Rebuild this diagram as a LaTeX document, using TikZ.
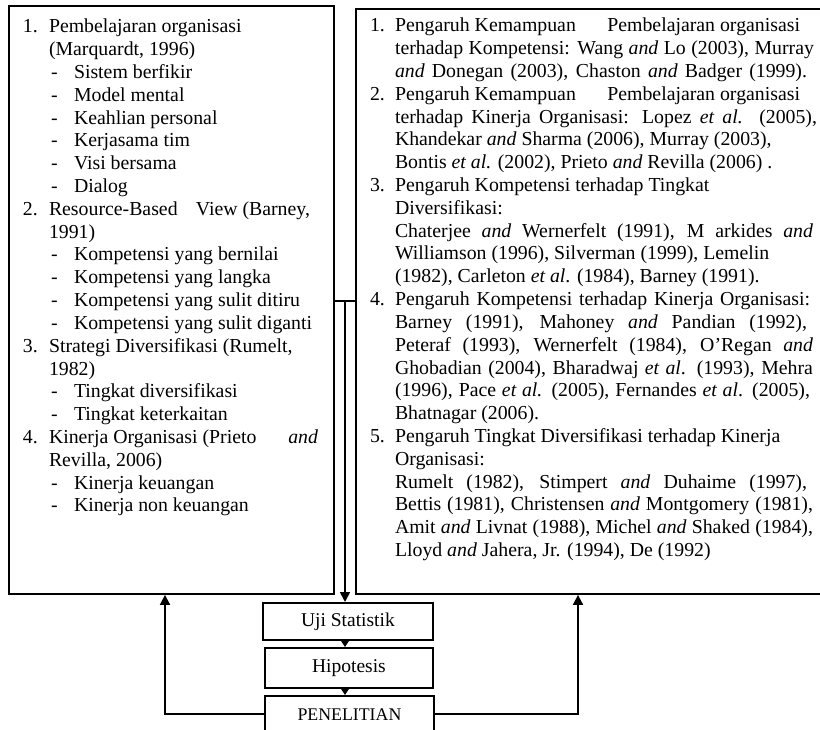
\documentclass[tikz,border=0pt]{standalone}
\usepackage{fontspec}
\setmainfont{Liberation Serif}
\usetikzlibrary{arrows.meta,calc}
\tikzset{
  txt/.style={anchor=base west, inner sep=0pt, outer sep=0pt, font=\fontsize{19.8pt}{22.8pt}\selectfont},
  bigbox/.style={draw, line width=1.9pt, anchor=north west, inner sep=0pt},
  smallbox/.style={draw, line width=1.9pt, anchor=north west, inner sep=0pt, font=\fontsize{19.5pt}{22pt}\selectfont},
  conn/.style={line width=1.7pt},
  arr/.style={line width=1.7pt, -{Triangle[length=10pt,width=10pt]}},
  sarr/.style={line width=1.7pt, -{Triangle[length=8pt,width=10pt]}}
}
\newcommand\leftnum[2]{\node[txt] (ln#1) at (23,{33+#1*22.8}) {#2};}
\newcommand\lefttxt[2]{\node[txt] (lt#1) at (49,{33+#1*22.8}) {#2};}
\newcommand\leftsub[2]{\node[txt] (ld#1) at (51,{33+#1*22.8}) {-};\node[txt] (lt#1) at (74,{33+#1*22.8}) {#2};}
\newcommand\rightnum[2]{\node[txt] (rn#1) at (370,{32+#1*22.8}) {#2};}
\newcommand\righttxt[2]{\node[txt] (rt#1) at (395,{32+#1*22.8}) {#2};}
\newcommand\jus[2]{\makebox[#1pt][s]{#2}}
\begin{document}
\begin{tikzpicture}[x=1pt,y=-1pt]
\useasboundingbox (0,0) rectangle (820,730);
\clip (0,0) rectangle (820,730);
% boxes
\node[bigbox, minimum width=325pt, minimum height=588pt] (leftbox) at (8,5) {};
\node[bigbox, minimum width=480pt, minimum height=585pt] (rightbox) at (355,8) {};
\node[smallbox, minimum width=170pt, minimum height=37pt] (uji) at (262,602) {};
\node[smallbox, minimum width=168pt, minimum height=40pt] (hip) at (264,647) {};
\node[smallbox, minimum width=169pt, minimum height=38pt] (pen) at (264,695) {};
\node[font=\fontsize{19.5pt}{22pt}\selectfont] (ujit) at (uji.center) {Uji Statistik};
\node[font=\fontsize{19.5pt}{22pt}\selectfont] (hipt) at (hip.center) {Hipotesis};
\node[font=\fontsize{17.8pt}{20pt}\selectfont] (pent) at (pen.center) {PENELITIAN};
% left list
\leftnum{0}{1.}\lefttxt{0}{Pembelajaran organisasi}
\lefttxt{1}{(Marquardt, 1996)}
\leftsub{2}{Sistem berfikir}
\leftsub{3}{Model mental}
\leftsub{4}{Keahlian personal}
\leftsub{5}{Kerjasama tim}
\leftsub{6}{Visi bersama}
\leftsub{7}{Dialog}
\leftnum{8}{2.}\lefttxt{8}{\jus{261}{Resource-Based\hfill View (Barney,}}
\lefttxt{9}{1991)}
\leftsub{10}{Kompetensi yang bernilai}
\leftsub{11}{Kompetensi yang langka}
\leftsub{12}{Kompetensi yang sulit ditiru}
\leftsub{13}{Kompetensi yang sulit diganti}
\leftnum{14}{3.}\lefttxt{14}{Strategi Diversifikasi (Rumelt,}
\lefttxt{15}{1982)}
\leftsub{16}{Tingkat diversifikasi}
\leftsub{17}{Tingkat keterkaitan}
\leftnum{18}{4.}\lefttxt{18}{\jus{269}{Kinerja Organisasi (Prieto\hfill\textit{and}}}
\lefttxt{19}{Revilla, 2006)}
\leftsub{20}{Kinerja keuangan}
\leftsub{21}{Kinerja non keuangan}
% right list
\rightnum{0}{1.}\righttxt{0}{\jus{405}{Pengaruh Kemampuan\hfill Pembelajaran organisasi}}
\righttxt{1}{\jus{419}{terhadap Kompetensi: Wang \textit{and} Lo (2003), Murray}}
\righttxt{2}{\jus{412}{\textit{and} Donegan (2003), Chaston \textit{and} Badger (1999).}}
\rightnum{3}{2.}\righttxt{3}{\jus{405}{Pengaruh Kemampuan\hfill Pembelajaran organisasi}}
\righttxt{4}{\jus{422}{terhadap Kinerja Organisasi: Lopez \textit{et al.} (2005),}}
\righttxt{5}{Khandekar \textit{and} Sharma (2006), Murray (2003),}
\righttxt{6}{Bontis \textit{et al.} (2002), Prieto \textit{and} Revilla (2006) .}
\rightnum{7}{3.}\righttxt{7}{Pengaruh Kompetensi terhadap Tingkat}
\righttxt{8}{Diversifikasi:}
\righttxt{9}{\jus{418}{Chaterjee \textit{and} Wernerfelt (1991), M arkides \textit{and}}}
\righttxt{10}{Williamson (1996), Silverman (1999), Lemelin}
\righttxt{11}{(1982), Carleton \textit{et al}. (1984), Barney (1991).}
\rightnum{12}{4.}\righttxt{12}{\jus{415}{Pengaruh Kompetensi terhadap Kinerja Organisasi:}}
\righttxt{13}{\jus{412}{Barney (1991), Mahoney \textit{and} Pandian (1992),}}
\righttxt{14}{\jus{418}{Peteraf (1993), Wernerfelt (1984), O’Regan \textit{and}}}
\righttxt{15}{\jus{418}{Ghobadian (2004), Bharadwaj \textit{et al}. (1993), Mehra}}
\righttxt{16}{\jus{415}{(1996), Pace \textit{et al.} (2005), Fernandes \textit{et al}. (2005),}}
\righttxt{17}{Bhatnagar (2006).}
\rightnum{18}{5.}\righttxt{18}{Pengaruh Tingkat Diversifikasi terhadap Kinerja}
\righttxt{19}{Organisasi:}
\righttxt{20}{\jus{412}{Rumelt (1982), Stimpert \textit{and} Duhaime (1997),}}
\righttxt{21}{\jus{418}{Bettis (1981), Christensen \textit{and} Montgomery (1981),}}
\righttxt{22}{\jus{418}{Amit \textit{and} Livnat (1988), Michel \textit{and} Shaked (1984),}}
\righttxt{23}{Lloyd \textit{and} Jahera, Jr. (1994), De (1992)}
% connectors
\coordinate (j) at (345,301);
\draw[conn] (leftbox.east |- j) -- (rightbox.west |- j);
\draw[arr] (j) -- (j |- uji.north);
\draw[sarr] (j |- uji.south) -- (j |- hip.north);
\draw[sarr] (j |- hip.south) -- (j |- pen.north);
\coordinate (lturn) at (165,714);
\coordinate (rturn) at (578,714);
\draw[arr] (pen.west |- lturn) -- (lturn) -- (lturn |- leftbox.south);
\draw[arr] (pen.east |- rturn) -- (rturn) -- (rturn |- rightbox.south);
\end{tikzpicture}
\end{document}
